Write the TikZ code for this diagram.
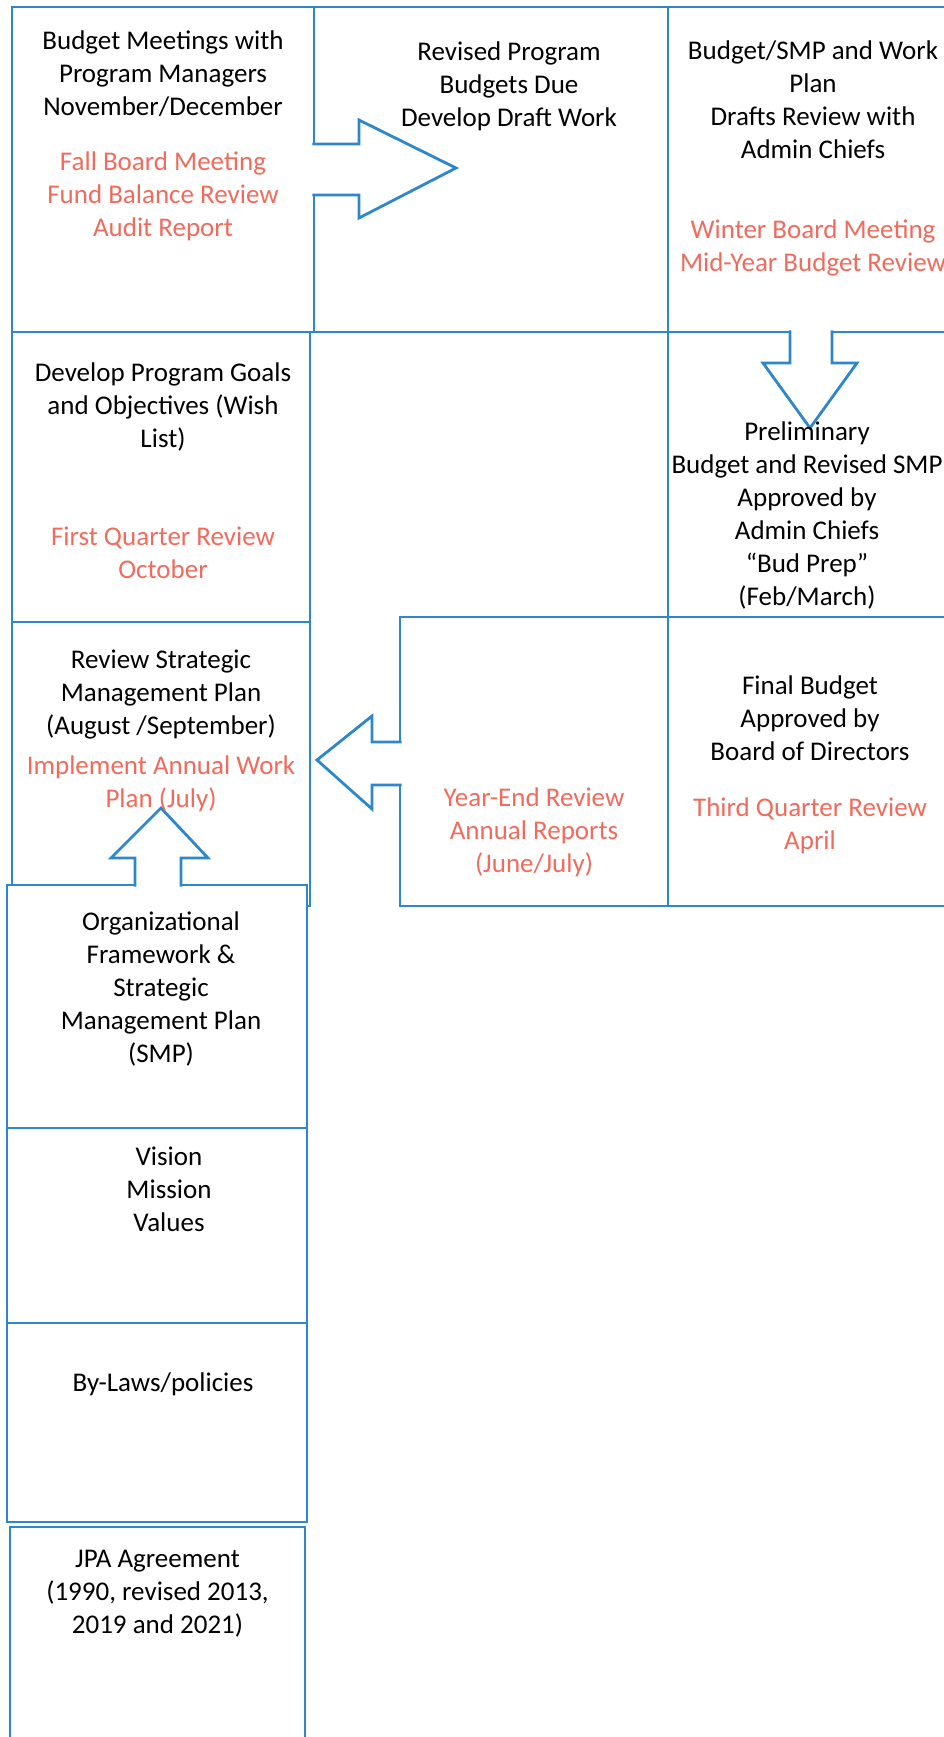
\documentclass[tikz,border=0pt]{standalone}
\usepackage{fontspec}
\setmainfont{Carlito}
\usetikzlibrary{positioning,calc}
\definecolor{cycleblue}{RGB}{46,134,203}
\definecolor{reviewred}{RGB}{241,107,92}

\begin{document}
\begin{tikzpicture}[x=1pt, y=-1pt, line width=2.8pt,
  frame/.style={draw=cycleblue, anchor=north west, inner sep=0pt, outer sep=0pt},
  txt/.style={align=center, anchor=north, inner sep=0pt, outer sep=0pt, font=\fontsize{27}{33}\selectfont},
  note/.style={txt, text=reviewred},
  blockarrow/.style={draw=cycleblue, fill=white, line join=miter}]
  \useasboundingbox (0,0) rectangle (944,1737);
  \clip (0,0) rectangle (944,1737);
  % budget cycle boxes
  \node[frame, minimum width=302pt, minimum height=325pt] (budmeet) at (12,7) {};
  \node[frame, minimum width=354pt, minimum height=325pt] (revbud) at (budmeet.north east) {};
  \node[frame, minimum width=290pt, minimum height=325pt] (drafts) at (revbud.north east) {};
  \node[frame, minimum width=298pt, minimum height=290pt] (goals) at (budmeet.south west) {};
  \node[frame, minimum width=290pt, minimum height=285pt] (prelim) at (drafts.south west) {};
  \node[frame, anchor=north east, minimum width=268pt, minimum height=289pt] (yearend) at (prelim.south west) {};
  \node[frame, minimum width=290pt, minimum height=289pt] (final) at (prelim.south west) {};
  \node[frame, minimum width=298pt, minimum height=284pt] (review) at (goals.south west) {};
  % foundation stack
  \node[frame, fill=white, minimum width=300pt, minimum height=243pt] (orgfw) at (7,885) {};
  \node[frame, minimum width=300pt, minimum height=195pt] (vision) at (orgfw.south west) {};
  \node[frame, minimum width=300pt, minimum height=199pt] (bylaws) at (vision.south west) {};
  \node[frame, minimum width=295pt, minimum height=260pt] (jpa) at ($(bylaws.south west)+(3,5)$) {};
  % block arrows between stages
  \draw[blockarrow] ($(budmeet.east)+(-1.6,-25.5)$) -- ++(46.6,0) -- ++(0,-24) -- ++(97,48) -- ++(-97,50) -- ++(0,-23) -- ++(-46.6,0);
  \draw[blockarrow] ($(drafts.south)+(-23,-1.6)$) -- ++(0,32.6) -- ++(-27,0) -- ++(47,65) -- ++(47,-65) -- ++(-25,0) -- ++(0,-32.6);
  \draw[blockarrow] ($(yearend.west)+(1.6,-19.5)$) -- ++(-29.6,0) -- ++(0,-26) -- ++(-55,44) -- ++(55,49) -- ++(0,-24) -- ++(29.6,0);
  \draw[blockarrow] ($(orgfw.north)+(-22,1.6)$) -- ++(0,-28.6) -- ++(-24,0) -- ++(50,-50) -- ++(47,50) -- ++(-27,0) -- ++(0,28.6);
  % texts
  \node[txt, below=24pt of budmeet.north] (budmeettxt) {Budget Meetings with\\Program Managers\\November/December};
  \node[note, below=145pt of budmeet.north] (fallboard) {Fall Board Meeting\\Fund Balance Review\\Audit Report};
  \node[txt, below=35pt of revbud.north, xshift=18pt] (revbudtxt) {Revised Program\\Budgets Due\\Develop Draft Work};
  \node[txt, below=34pt of drafts.north] (draftstxt) {Budget/SMP and Work\\Plan\\Drafts Review with\\Admin Chiefs};
  \node[note, below=213pt of drafts.north] (winterboard) {Winter Board Meeting\\Mid-Year Budget Review};
  \node[txt, below=31pt of goals.north, xshift=2pt] (goalstxt) {Develop Program Goals\\and Objectives (Wish\\List)};
  \node[note, below=195pt of goals.north, xshift=2pt] (firstqtr) {First Quarter Review\\October};
  \node[txt, below=90pt of prelim.north, xshift=-6pt] (prelimtxt) {Preliminary\\Budget and Revised SMP\\Approved by\\Admin Chiefs\\“Bud Prep”\\(Feb/March)};
  \node[note, below=171pt of yearend.north] (yearendtxt) {Year-End Review\\Annual Reports\\(June/July)};
  \node[txt, below=59pt of final.north, xshift=-3pt] (finaltxt) {Final Budget\\Approved by\\Board of Directors};
  \node[note, below=181pt of final.north, xshift=-3pt] (thirdqtr) {Third Quarter Review\\April};
  \node[txt, below=28pt of review.north] (reviewtxt) {Review Strategic\\Management Plan\\(August /September)};
  \node[note, below=134pt of review.north] (workplan) {Implement Annual Work\\Plan (July)};
  \node[txt, below=27pt of orgfw.north, xshift=4pt] (orgfwtxt) {Organizational\\Framework \&\\Strategic\\Management Plan\\(SMP)};
  \node[txt, below=19pt of vision.north, xshift=12pt] (visiontxt) {Vision\\Mission\\Values};
  \node[txt, below=50pt of bylaws.north, xshift=6pt] (bylawstxt) {By-Laws/policies};
  \node[txt, below=23pt of jpa.north] (jpatxt) {JPA Agreement\\(1990, revised 2013,\\2019 and 2021)};
\end{tikzpicture}
\end{document}
